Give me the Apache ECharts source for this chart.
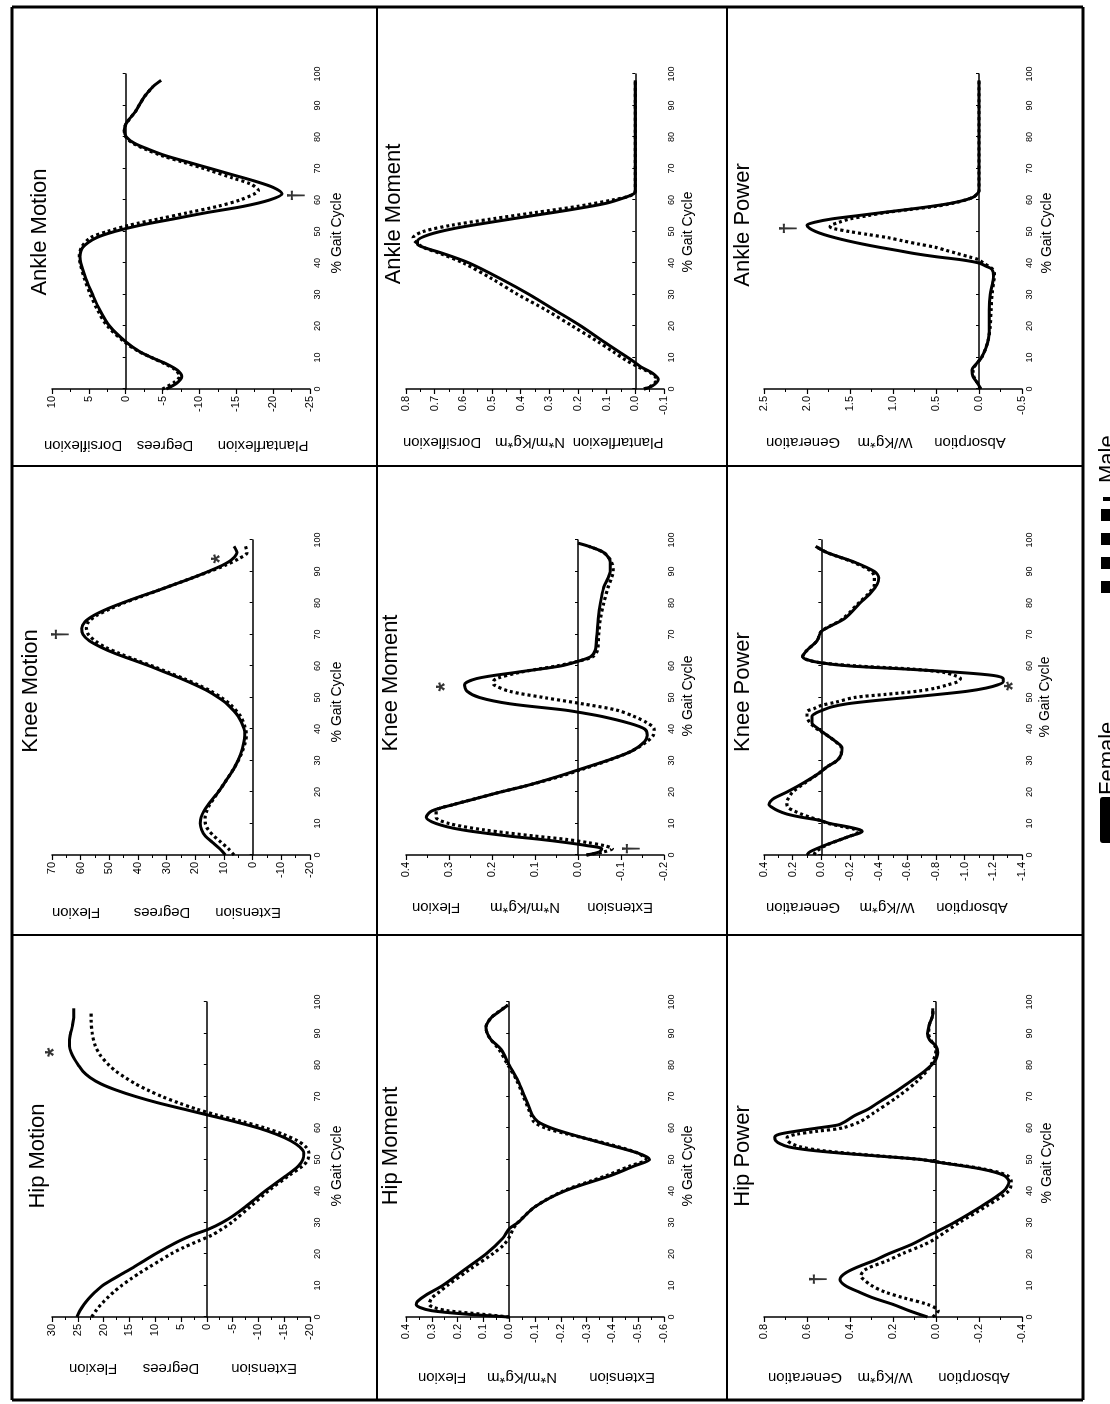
<!DOCTYPE html>
<html>
<head>
<meta charset="utf-8">
<script src="https://cdn.jsdelivr.net/npm/echarts@6/dist/echarts.min.js"></script>
<style>
html,body{margin:0;padding:0;background:#fff;overflow:hidden;width:1110px;height:1404px;}
#c{position:absolute;left:0;top:0;width:1404px;height:1110px;transform-origin:0 0;transform:translateY(1404px) rotate(-90deg);background:#fff;}
</style>
</head>
<body>
<div id="c"></div>
<script>
// ---------------- DATA ([% gait cycle, value]) ----------------
const gaitTicks = [0,10,20,30,40,50,60,70,80,90,100];

const hipMotionF = [[0,25.2],[2,24.6],[4,23.8],[6,22.8],[8,21.6],[10,20.2],[12,18.2],[14,16.1],[16,14],[18,12],[20,10],[22,7.8],[24,5.5],[26,2.8],[28,-0.5],[30,-3],[32,-5],[35,-7.5],[40,-11.3],[45,-15.5],[48,-17.8],[50,-18.6],[52,-18.8],[54,-18],[56,-16.2],[58,-13.5],[60,-10],[62,-5.5],[64,-0.5],[66,4.5],[68,9.5],[70,13.8],[72,17.5],[74,20.5],[76,22.6],[78,24],[80,24.9],[82,25.7],[84,26.3],[86,26.6],[88,26.6],[90,26.4],[92,26.1],[95,25.8],[98,25.8]];
const hipMotionM = [[0,22.3],[2,21.5],[4,20.5],[6,19.3],[8,18],[10,16.5],[12,14.8],[14,13],[16,11],[18,9],[20,7],[22,4.6],[24,1.8],[26,-1],[28,-3],[30,-4.8],[35,-8.4],[40,-11.9],[45,-16],[48,-18.6],[50,-19.6],[52,-19.8],[54,-19.2],[56,-17.5],[58,-14.8],[60,-11.3],[62,-7],[64,-2.2],[66,2],[68,5.5],[70,8.7],[72,11.4],[74,13.8],[76,15.8],[78,17.6],[80,19],[83,20.6],[86,21.6],[90,22.2],[94,22.4],[97,22.4]];
const hipMotionMarks = [[84,29.4,'*']];

const kneeMotionF = [[0,9.5],[2,11.5],[4,14],[6,16.5],[8,17.8],[10,18.3],[12,18],[14,17],[16,15.5],[18,13.8],[20,12],[24,9],[28,6.2],[32,4.2],[36,3],[38,2.8],[40,3],[44,5],[48,9],[50,12],[52,15.5],[54,20],[56,25],[58,30.5],[60,36],[62,42],[64,48],[66,53],[68,57],[70,59.2],[72,59.6],[74,58.5],[76,55.5],[78,51],[80,45.5],[82,39.5],[84,33],[86,27],[88,21],[90,15.5],[92,10.5],[94,7],[96,5.5],[98,6.5]];
const kneeMotionM = [[0,6.5],[2,8.5],[4,11],[6,13.5],[8,15.5],[10,16.5],[12,16.6],[14,16],[16,15],[18,13.5],[20,12],[24,9],[28,6.2],[32,4],[36,2.5],[38,2.2],[40,2.5],[44,4.2],[48,8],[50,11],[52,14.5],[54,19],[56,24],[58,29.5],[60,35],[62,41],[64,46.5],[66,51.5],[68,55],[70,57.3],[72,58],[74,57.3],[76,54.5],[78,50],[80,45],[82,39],[84,33],[86,27],[88,21],[90,15],[92,9.5],[94,5],[96,2],[98,2.5]];
const kneeMotionMarks = [[70,67,'\u2020'],[94,10.8,'*']];

const ankleMotionF = [[0,-5.5],[2,-7],[4,-7.6],[6,-7],[8,-5.5],[10,-3.5],[12,-1.8],[15,0],[20,2.2],[25,3.5],[30,4.5],[35,5.4],[40,6.1],[42,6.2],[45,5.8],[48,4],[50,1.5],[52,-2],[54,-6.5],[56,-11],[58,-16],[60,-19.5],[62,-21.2],[64,-20],[66,-17.5],[68,-14.5],[70,-11.5],[72,-8.5],[74,-5.5],[76,-3.2],[78,-1.2],[80,-0.1],[82,0.2],[84,0],[86,-0.6],[88,-1.3],[90,-1.8],[93,-2.6],[96,-3.7],[98,-4.8]];
const ankleMotionM = [[0,-5],[2,-6.5],[4,-7.3],[6,-6.8],[8,-5.3],[10,-3.5],[12,-1.7],[15,0.2],[20,2.5],[25,3.8],[30,4.8],[35,5.6],[40,6.2],[42,6.3],[45,6],[48,4.8],[50,2.5],[52,-0.5],[54,-4.5],[56,-8.5],[58,-12.5],[60,-15.5],[62,-17.5],[63,-18],[65,-17],[67,-14.5],[70,-10.6],[72,-7.8],[74,-5],[76,-2.8],[78,-1],[80,0],[82,0.2],[84,0],[86,-0.6],[88,-1.3],[90,-1.8],[93,-2.6],[96,-3.7]];
const ankleMotionMarks = [[61.5,-23.2,'\u2020']];

const hipMomentF = [[0,0],[1,0.18],[2,0.3],[3,0.345],[4,0.36],[5,0.355],[7,0.322],[10,0.258],[15,0.174],[20,0.09],[25,0.025],[28,0],[30,-0.034],[35,-0.1],[40,-0.215],[45,-0.396],[48,-0.486],[50,-0.544],[52,-0.5],[55,-0.37],[58,-0.24],[60,-0.163],[62,-0.111],[64,-0.09],[66,-0.08],[70,-0.06],[75,-0.034],[80,0],[85,0.032],[88,0.07],[90,0.085],[92,0.09],[95,0.07],[97,0.038],[99,0.005]];
const hipMomentM = [[0,0],[1,0.12],[2,0.24],[3,0.29],[4,0.31],[6,0.3],[8,0.27],[10,0.24],[15,0.155],[20,0.065],[23,0.02],[26,-0.005],[28,-0.015],[30,-0.034],[35,-0.1],[40,-0.21],[45,-0.38],[48,-0.47],[50,-0.53],[52,-0.5],[55,-0.38],[58,-0.23],[60,-0.14],[62,-0.095],[64,-0.085],[66,-0.075],[70,-0.055],[75,-0.03],[80,0.005],[85,0.04],[88,0.07],[90,0.085],[92,0.09],[95,0.07],[97,0.04],[99,0.005]];
const hipMomentMarks = [];

const kneeMomentF = [[0,-0.02],[1,-0.05],[2,-0.055],[3,-0.02],[4,0.03],[5,0.09],[6,0.16],[8,0.27],[10,0.33],[12,0.353],[14,0.34],[16,0.29],[18,0.235],[20,0.18],[22,0.12],[25,0.045],[27,0],[30,-0.068],[33,-0.125],[36,-0.155],[38,-0.161],[40,-0.155],[42,-0.115],[44,-0.055],[45,-0.015],[46,0.03],[48,0.158],[50,0.229],[52,0.258],[54,0.264],[56,0.236],[58,0.143],[60,0.041],[61.5,0],[63,-0.03],[65,-0.04],[70,-0.044],[75,-0.047],[80,-0.052],[85,-0.06],[88,-0.07],[90,-0.075],[93,-0.075],[96,-0.06],[98,-0.025],[99,0]];
const kneeMomentM = [[0,-0.02],[1,-0.06],[2,-0.08],[3,-0.06],[4,-0.02],[5,0.03],[6,0.1],[8,0.22],[10,0.3],[12,0.33],[14,0.33],[16,0.29],[18,0.235],[20,0.18],[22,0.12],[25,0.04],[27,-0.005],[30,-0.07],[33,-0.125],[36,-0.16],[38,-0.175],[40,-0.177],[42,-0.16],[44,-0.13],[46,-0.09],[48,-0.01],[50,0.08],[52,0.16],[54,0.195],[55,0.197],[56,0.19],[58,0.135],[60,0.05],[61.5,0],[63,-0.035],[65,-0.045],[70,-0.048],[75,-0.052],[80,-0.06],[85,-0.07],[88,-0.078],[90,-0.082],[93,-0.078],[96,-0.06],[98,-0.025]];
const kneeMomentMarks = [[53.4,0.306,'*'],[2,-0.125,'\u2020']];

const ankleMomentF = [[0,-0.03],[1,-0.06],[3,-0.08],[5,-0.06],[7,-0.02],[9,0.01],[12,0.06],[15,0.11],[20,0.19],[25,0.28],[30,0.37],[35,0.47],[40,0.58],[43,0.67],[45,0.74],[46,0.76],[47,0.76],[49,0.72],[51,0.63],[53,0.5],[55,0.36],[57,0.22],[59,0.1],[61,0.03],[62,0.005],[63,0],[98,0]];
const ankleMomentM = [[0,-0.03],[1,-0.055],[3,-0.075],[5,-0.055],[7,-0.01],[9,0.03],[12,0.08],[15,0.13],[20,0.22],[25,0.31],[30,0.41],[35,0.5],[40,0.6],[43,0.68],[45,0.74],[47,0.77],[48,0.775],[50,0.74],[52,0.64],[54,0.5],[56,0.35],[58,0.2],[60,0.08],[61,0.03],[62,0.005],[63,0],[98,0]];
const ankleMomentMarks = [];

const hipPowerF = [[0,0.04],[2,0.125],[4,0.2],[6,0.29],[8,0.36],[10,0.423],[12,0.446],[14,0.42],[16,0.36],[18,0.285],[20,0.223],[23,0.115],[26,0.03],[27,0],[30,-0.085],[35,-0.208],[40,-0.315],[43,-0.34],[45,-0.315],[47,-0.21],[49,-0.023],[50,0.07],[51,0.25],[52,0.438],[53,0.59],[54,0.685],[55,0.725],[56,0.746],[57,0.75],[58,0.73],[59,0.65],[60,0.55],[61,0.454],[62,0.423],[64,0.377],[66,0.315],[68,0.27],[70,0.223],[72,0.177],[75,0.115],[78,0.054],[81,0.008],[84,-0.008],[86,0],[88,0.03],[90,0.04],[93,0.03],[96,0.015],[98,0.015]];
const hipPowerM = [[0,0.015],[2,-0.01],[4,0.04],[6,0.146],[8,0.24],[10,0.3],[12,0.338],[13,0.35],[15,0.33],[18,0.223],[20,0.16],[23,0.054],[25,0],[30,-0.108],[35,-0.23],[40,-0.338],[43,-0.35],[45,-0.33],[47,-0.22],[49,-0.03],[50,0.07],[51,0.24],[52,0.41],[53,0.55],[54,0.63],[55,0.67],[56,0.69],[57,0.692],[58,0.65],[59,0.55],[60,0.438],[62,0.354],[65,0.285],[70,0.177],[75,0.085],[80,0.023],[85,0],[88,0.025],[90,0.035],[93,0.03],[96,0.015],[98,0.015]];
const hipPowerMarks = [[12,0.546,'\u2020']];

const kneePowerF = [[0,0.1],[1,0.08],[3,-0.02],[5,-0.14],[6,-0.2],[7,-0.27],[7.5,-0.285],[8,-0.27],[9,-0.18],[10,-0.06],[11,0.01],[12,0.14],[13,0.24],[14,0.3],[15,0.34],[16,0.365],[17,0.355],[18,0.33],[20,0.24],[23,0.12],[26,0.015],[28,-0.04],[30,-0.11],[32,-0.14],[34,-0.145],[36,-0.1],[38,-0.04],[40,0.02],[42,0.065],[44,0.065],[45,0.04],[46,-0.01],[47,-0.07],[48,-0.18],[49,-0.37],[50,-0.6],[51,-0.82],[52,-1.02],[53,-1.15],[54,-1.23],[55,-1.27],[56,-1.27],[57,-1.2],[58,-0.95],[59,-0.6],[60,-0.2],[61,0],[62,0.1],[63,0.13],[65,0.1],[68,0.03],[71,0],[75,-0.16],[80,-0.27],[83,-0.34],[86,-0.39],[88,-0.4],[90,-0.37],[93,-0.23],[96,-0.04],[98,0.04]];
const kneePowerM = [[0,0.05],[1,0.04],[3,-0.03],[5,-0.14],[6,-0.2],[7,-0.25],[8,-0.24],[9,-0.15],[10,-0.05],[11,0.01],[12,0.08],[13,0.14],[14,0.19],[15,0.23],[16,0.24],[17,0.24],[18,0.23],[20,0.2],[23,0.11],[26,0.015],[28,-0.04],[30,-0.11],[32,-0.14],[34,-0.14],[36,-0.1],[38,-0.04],[40,0.03],[42,0.08],[44,0.1],[45.5,0.1],[46.5,0.05],[47.5,0],[48.5,-0.1],[50,-0.23],[51,-0.45],[52,-0.67],[53,-0.8],[54,-0.88],[55,-0.95],[56,-0.97],[57,-0.93],[58,-0.85],[59,-0.64],[60,-0.25],[61,0],[62,0.1],[63,0.13],[65,0.1],[68,0.03],[71,0],[75,-0.15],[80,-0.26],[83,-0.33],[86,-0.37],[88,-0.37],[90,-0.35],[93,-0.22],[96,-0.04],[98,0.04]];
const kneePowerMarks = [[53.6,-1.35,'*']];

const anklePowerF = [[0,-0.02],[2,0.02],[4,0.07],[6,0.08],[8,0.03],[10,-0.03],[13,-0.08],[16,-0.11],[20,-0.12],[25,-0.12],[30,-0.13],[34,-0.16],[36,-0.17],[38,-0.15],[39,-0.08],[40,0],[41,0.2],[42,0.5],[43,0.75],[44,0.95],[45,1.16],[46,1.35],[47,1.52],[48,1.67],[49,1.8],[50,1.9],[51,1.97],[52,2.0],[53,1.9],[54,1.71],[55,1.42],[56,1.13],[57,0.83],[58,0.55],[59,0.32],[60,0.16],[61,0.06],[62,0.02],[63,0],[98,0]];
const anklePowerM = [[0,-0.02],[2,0.02],[4,0.06],[6,0.07],[8,0.03],[10,-0.03],[13,-0.08],[16,-0.11],[20,-0.13],[25,-0.14],[30,-0.15],[34,-0.17],[36,-0.18],[38,-0.16],[40,-0.05],[41,0],[42,0.12],[43,0.25],[44,0.38],[45,0.51],[46,0.7],[47,0.88],[48,1.05],[49,1.28],[50,1.51],[51,1.7],[51.5,1.73],[52,1.72],[53,1.62],[54,1.5],[55,1.3],[56,1.09],[57,0.8],[58,0.5],[59,0.3],[60,0.16],[61,0.06],[62,0.02],[63,0],[98,0]];
const anklePowerMarks = [[51,2.21,'\u2020']];

const legendNames = ['Female', 'Male'];

// ---------------- PANELS ----------------
const panels = [
  {title:'Hip Motion',   names:['Flexion','Degrees','Extension'],            min:-20,  max:30,  step:5,   dec:0, f:hipMotionF,   m:hipMotionM,   marks:hipMotionMarks},
  {title:'Knee Motion',  names:['Flexion','Degrees','Extension'],            min:-20,  max:70,  step:10,  dec:0, f:kneeMotionF,  m:kneeMotionM,  marks:kneeMotionMarks},
  {title:'Ankle Motion', names:['Dorsiflexion','Degrees','Plantarflexion'],  min:-25,  max:10,  step:5,   dec:0, f:ankleMotionF, m:ankleMotionM, marks:ankleMotionMarks},
  {title:'Hip Moment',   names:['Flexion','N*m/Kg*m','Extension'],           min:-0.6, max:0.4, step:0.1, dec:1, f:hipMomentF,   m:hipMomentM,   marks:hipMomentMarks},
  {title:'Knee Moment',  names:['Flexion','N*m/Kg*m','Extension'],           min:-0.2, max:0.4, step:0.1, dec:1, f:kneeMomentF,  m:kneeMomentM,  marks:kneeMomentMarks},
  {title:'Ankle Moment', names:['Dorsiflexion','N*m/Kg*m','Plantarflexion'], min:-0.1, max:0.8, step:0.1, dec:1, f:ankleMomentF, m:ankleMomentM, marks:ankleMomentMarks},
  {title:'Hip Power',    names:['Generation','W/Kg*m','Absorption'],         min:-0.4, max:0.8, step:0.2, dec:1, f:hipPowerF,    m:hipPowerM,    marks:hipPowerMarks},
  {title:'Knee Power',   names:['Generation','W/Kg*m','Absorption'],         min:-1.4, max:0.4, step:0.2, dec:1, f:kneePowerF,   m:kneePowerM,   marks:kneePowerMarks},
  {title:'Ankle Power',  names:['Generation','W/Kg*m','Absorption'],         min:-0.5, max:2.5, step:0.5, dec:1, f:anklePowerF,  m:anklePowerM,  marks:anklePowerMarks}
];

// ---------------- LAYOUT (unrotated page coordinates) ----------------
const COL_LEFT = [87, 549, 1015];
const ROW_TOP = [52, 406, 764];
const PW = 315, PH = 258;
const layout = [
  {t:[248,38],  xn:[238,337],  yx:36,  yy:[93,171,264]},
  {t:[713,31],  xn:[702,337],  yx:492, yy:[76,162,248]},
  {t:[1172,40], xn:[1171,337], yx:959, yy:[83,165,263]},
  {t:[258,391], xn:[238,688],  yx:27,  yy:[442,522,622]},
  {t:[721,391], xn:[708,688],  yx:497, yy:[436,525,620]},
  {t:[1190,394],xn:[1172,688], yx:962, yy:[442,530,618]},
  {t:[248,743], xn:[241,1047], yx:27,  yy:[805,885,974]},
  {t:[712,743], xn:[707,1045], yx:497, yy:[803,887,972]},
  {t:[1179,743],xn:[1171,1047],yx:962, yy:[803,885,970]}
];

const FONT = '"Liberation Sans", Arial, Helvetica, sans-serif';
const grid = [], xAxis = [], yAxis = [], series = [], graphic = [];

panels.forEach((p, i) => {
  const col = i % 3, row = Math.floor(i / 3);
  grid.push({left: COL_LEFT[col], top: ROW_TOP[row], width: PW, height: PH});
  xAxis.push({
    type:'value', gridIndex:i, min:0, max:100, interval:10,
    axisLine:{onZero:true, lineStyle:{color:'#000', width:1.5}},
    axisTick:{show:true, inside:true, length:3, lineStyle:{color:'#000', width:1}},
    axisLabel:{fontSize:9, color:'#000', margin:3, fontFamily:FONT},
    splitLine:{show:false}
  });
  yAxis.push({
    type:'value', gridIndex:i, min:p.min, max:p.max, interval:p.step,
    axisLine:{show:true, onZero:false, lineStyle:{color:'#000', width:1.5}},
    axisTick:{show:true, length:5, lineStyle:{color:'#000', width:1.2}},
    minorTick:{show:true, splitNumber:2, length:3, lineStyle:{color:'#000', width:1}},
    axisLabel:{fontSize:11, color:'#000', margin:7, fontFamily:FONT,
      formatter: v => (Math.abs(v) < 1e-9 ? 0 : v).toFixed(p.dec)},
    splitLine:{show:false}
  });
  series.push({
    name:legendNames[1], type:'line', xAxisIndex:i, yAxisIndex:i, data:p.m,
    showSymbol:false, smooth:0.3, silent:true,
    lineStyle:{color:'#000', width:3.2, type:[3,3], cap:'butt'}
  });
  series.push({
    name:legendNames[0], type:'line', xAxisIndex:i, yAxisIndex:i, data:p.f,
    showSymbol:false, smooth:0.3, silent:true,
    lineStyle:{color:'#000', width:3}
  });
  series.push({
    type:'scatter', xAxisIndex:i, yAxisIndex:i, silent:true,
    data:p.marks.map(d => ({value:[d[0], d[1]], label:{formatter:d[2], fontSize: d[2] === '*' ? 24 : 22}})),
    symbolSize:1, itemStyle:{color:'rgba(0,0,0,0)'},
    label:{show:true, position:'inside', color:'#000', fontWeight:'bold', fontFamily:FONT}
  });

  const L = layout[i];
  graphic.push({type:'text', x:L.t[0], y:L.t[1], silent:true,
    style:{text:p.title, fill:'#000', font:'22px ' + FONT, textAlign:'center', textVerticalAlign:'middle'}});
  graphic.push({type:'text', x:L.xn[0], y:L.xn[1], silent:true,
    style:{text:'% Gait Cycle', fill:'#000', font:'14px ' + FONT, textAlign:'center', textVerticalAlign:'middle'}});
  p.names.forEach((nm, k) => {
    graphic.push({type:'text', x:L.yx, y:L.yy[k], rotation:Math.PI/2, silent:true,
      style:{text:nm, fill:'#000', font:'15px ' + FONT, textAlign:'center', textVerticalAlign:'middle'}});
  });
});

// frame
const frameH = [12, 377, 727, 1083];
const frameV = [4, 469, 938, 1397];
frameH.forEach((y, k) => graphic.push({type:'line', silent:true,
  shape:{x1:frameV[0], y1:y, x2:frameV[3], y2:y}, style:{stroke:'#000', lineWidth:(k===0||k===3)?3:2}}));
frameV.forEach((x, k) => graphic.push({type:'line', silent:true,
  shape:{x1:x, y1:frameH[0], x2:x, y2:frameH[3]}, style:{stroke:'#000', lineWidth:(k===0||k===3)?3:2}}));

// legend (partially cut at bottom as in original)
graphic.push({type:'rect', silent:true, shape:{x:561, y:1100, width:46, height:14, r:3}, style:{fill:'#000'}});
graphic.push({type:'text', x:609, y:1097, silent:true,
  style:{text:legendNames[0], fill:'#000', font:'22px ' + FONT, textAlign:'left', textVerticalAlign:'top'}});
[811, 835, 859, 883].forEach(x => graphic.push({type:'rect', silent:true,
  shape:{x:x, y:1101, width:12, height:14}, style:{fill:'#000'}}));
graphic.push({type:'rect', silent:true, shape:{x:903, y:1103, width:4, height:12}, style:{fill:'#000'}});
graphic.push({type:'text', x:921, y:1097, silent:true,
  style:{text:legendNames[1], fill:'#000', font:'22px ' + FONT, textAlign:'left', textVerticalAlign:'top'}});

const chart = echarts.init(document.getElementById('c'), null, {renderer:'canvas', width:1404, height:1110});
chart.setOption({
  animation:false,
  backgroundColor:'#fff',
  grid, xAxis, yAxis, series, graphic
});
</script>
</body>
</html>
